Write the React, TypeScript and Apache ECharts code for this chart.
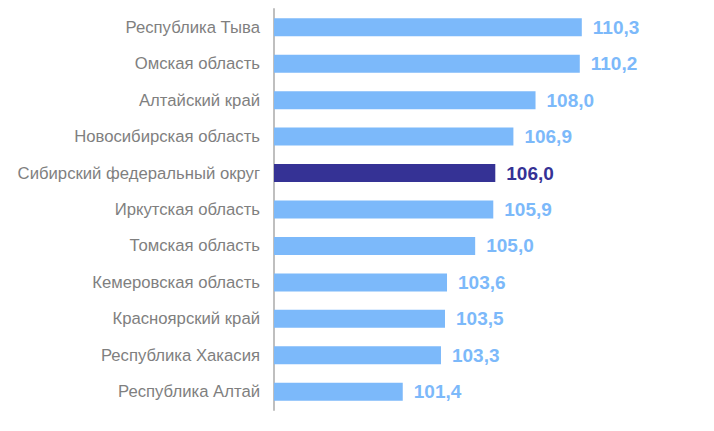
import React, { useEffect, useRef } from "react";
import * as echarts from "echarts";

const categories = [
  "Республика Тыва",
  "Омская область",
  "Алтайский край",
  "Новосибирская область",
  "Сибирский федеральный округ",
  "Иркутская область",
  "Томская область",
  "Кемеровская область",
  "Красноярский край",
  "Республика Хакасия",
  "Республика Алтай",
];
const values = [110.3, 110.2, 108.0, 106.9, 106.0, 105.9, 105.0, 103.6, 103.5, 103.3, 101.4];
const highlight = "Сибирский федеральный округ";

export default function App() {
  const ref = useRef<HTMLDivElement>(null);
  useEffect(() => {
    document.body.style.margin = "0";
    const chart = echarts.init(ref.current!, null, { renderer: "svg" });
    const light = "#7cb9fa";
    const dark = "#353295";
    const font = "'Liberation Sans', Arial, sans-serif";
    chart.setOption({
      animation: false,
      grid: { left: 274, top: 9, width: 342, height: 401, containLabel: false },
      xAxis: { type: "value", min: 95, max: 112, show: false },
      yAxis: {
        type: "category",
        data: categories,
        inverse: true,
        axisLine: { show: true, lineStyle: { color: "#bfbfbf", width: 2 } },
        axisTick: { show: false },
        splitLine: { show: false },
        axisLabel: {
          color: "#7f7f7f",
          fontSize: 16.7,
          fontFamily: font,
          margin: 14,
        },
      },
      series: [
        {
          type: "bar",
          barWidth: 18,
          data: categories.map((c, i) => ({
            value: values[i],
            itemStyle: { color: c === highlight ? dark : light },
            label: { color: c === highlight ? dark : light },
          })),
          label: {
            show: true,
            position: "right",
            distance: 11,
            fontSize: 19,
            fontWeight: "bold",
            fontFamily: font,
            formatter: (p: any) => p.value.toFixed(1).replace(".", ","),
          },
        },
      ],
    });
    return () => chart.dispose();
  }, []);
  return <div ref={ref} style={{ width: 714, height: 431 }} />;
}
